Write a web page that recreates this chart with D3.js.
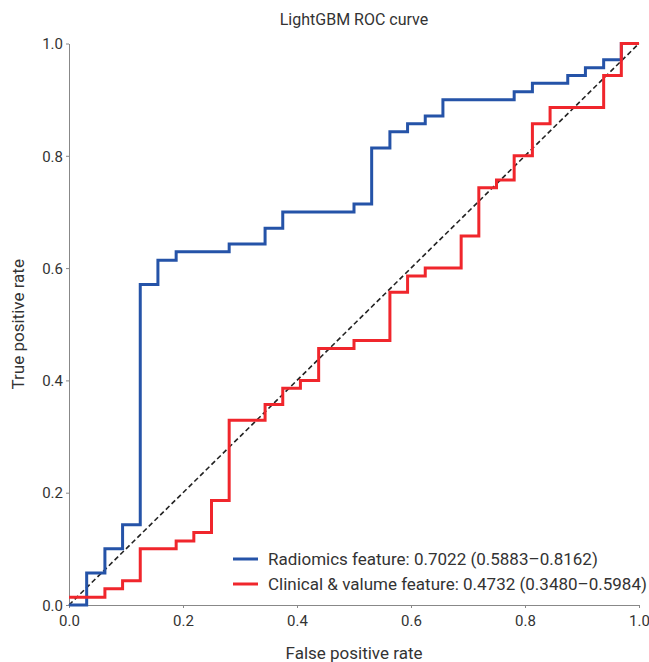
<!DOCTYPE html>
<html>
<style>
body { margin: 0; background: #fff; }
text { font-family: "Roboto", sans-serif; fill: #333; }
.axis path, .axis line { stroke: #888; }
</style>
<body>
<svg width="649" height="662"></svg>
<script src="https://d3js.org/d3.v7.min.js"></script>
<script>
// ROC step curves
var radFpr = [0, 0.031, 0.031, 0.063, 0.063, 0.094, 0.094, 0.125, 0.125, 0.156, 0.156, 0.188, 0.188, 0.281, 0.281, 0.344, 0.344, 0.375, 0.375, 0.5, 0.5, 0.531, 0.531, 0.563, 0.563, 0.594, 0.594, 0.625, 0.625, 0.656, 0.656, 0.781, 0.781, 0.813, 0.813, 0.875, 0.875, 0.906, 0.906, 0.938, 0.938, 0.969, 0.969, 1];
var radTpr = [0, 0, 0.057, 0.057, 0.1, 0.1, 0.143, 0.143, 0.571, 0.571, 0.614, 0.614, 0.629, 0.629, 0.643, 0.643, 0.671, 0.671, 0.7, 0.7, 0.714, 0.714, 0.814, 0.814, 0.843, 0.843, 0.857, 0.857, 0.871, 0.871, 0.9, 0.9, 0.914, 0.914, 0.929, 0.929, 0.943, 0.943, 0.957, 0.957, 0.971, 0.971, 1, 1];
var cliFpr = [0, 0.063, 0.063, 0.094, 0.094, 0.125, 0.125, 0.188, 0.188, 0.219, 0.219, 0.25, 0.25, 0.281, 0.281, 0.344, 0.344, 0.375, 0.375, 0.406, 0.406, 0.438, 0.438, 0.5, 0.5, 0.563, 0.563, 0.594, 0.594, 0.625, 0.625, 0.688, 0.688, 0.719, 0.719, 0.75, 0.75, 0.781, 0.781, 0.813, 0.813, 0.844, 0.844, 0.938, 0.938, 0.969, 0.969, 1];
var cliTpr = [0.014, 0.014, 0.029, 0.029, 0.043, 0.043, 0.1, 0.1, 0.114, 0.114, 0.129, 0.129, 0.186, 0.186, 0.329, 0.329, 0.357, 0.357, 0.386, 0.386, 0.4, 0.4, 0.457, 0.457, 0.471, 0.471, 0.557, 0.557, 0.586, 0.586, 0.6, 0.6, 0.657, 0.657, 0.743, 0.743, 0.757, 0.757, 0.8, 0.8, 0.857, 0.857, 0.886, 0.886, 0.943, 0.943, 1, 1];
var ticks = [0, 0.2, 0.4, 0.6, 0.8, 1.0];
var legendLabels = ["Radiomics feature: 0.7022 (0.5883\u20130.8162)", "Clinical & valume feature: 0.4732 (0.3480\u20130.5984)"];

var svg = d3.select("svg"),
    margin = {left: 69, top: 43.5, right: 10, bottom: 57},
    width = 570,
    height = 561.5;

var x = d3.scaleLinear().domain([0, 1]).range([margin.left, margin.left + width]);
var y = d3.scaleLinear().domain([0, 1]).range([margin.top + height, margin.top]);

svg.append("g")
    .attr("class", "axis")
    .attr("transform", "translate(0," + (margin.top + height) + ")")
    .call(d3.axisBottom(x).tickValues(ticks).tickFormat(d3.format(".1f")).tickSize(3).tickSizeOuter(0))
    .selectAll("text").style("font-size", "15px").attr("dy", "1em");

svg.append("g")
    .attr("class", "axis")
    .attr("transform", "translate(" + margin.left + ",0)")
    .call(d3.axisLeft(y).tickValues(ticks).tickFormat(d3.format(".1f")).tickSize(3).tickSizeOuter(0))
    .selectAll("text").style("font-size", "15px").attr("dy", "0.35em");

svg.selectAll(".axis .domain").attr("stroke", "#888");

var line = d3.line()
    .x(function(d) { return x(d[0]); })
    .y(function(d) { return y(d[1]); });

svg.append("path")
    .datum([[0, 0], [1, 1]])
    .attr("d", line)
    .attr("fill", "none")
    .attr("stroke", "#222")
    .attr("stroke-width", 1.6)
    .attr("stroke-dasharray", "5,3");

svg.append("path")
    .datum(d3.zip(radFpr, radTpr))
    .attr("d", line)
    .attr("fill", "none")
    .attr("stroke", "#2553a8")
    .attr("stroke-width", 3);

svg.append("path")
    .datum(d3.zip(cliFpr, cliTpr))
    .attr("d", line)
    .attr("fill", "none")
    .attr("stroke", "#f0262c")
    .attr("stroke-width", 3);

// title and axis labels
svg.append("text")
    .attr("x", 354).attr("y", 25)
    .attr("text-anchor", "middle")
    .style("font-size", "16px")
    .text("LightGBM ROC curve");

svg.append("text")
    .attr("x", 354).attr("y", 659)
    .attr("text-anchor", "middle")
    .style("font-size", "17px")
    .text("False positive rate");

svg.append("text")
    .attr("transform", "translate(24," + (margin.top + height / 2) + ") rotate(-90)")
    .attr("text-anchor", "middle")
    .style("font-size", "17px")
    .text("True positive rate");

// legend
var colors = ["#2553a8", "#f0262c"];
var leg = svg.append("g").selectAll("g")
    .data(legendLabels)
    .enter().append("g")
    .attr("transform", function(d, i) { return "translate(233," + (559 + i * 25) + ")"; });

leg.append("line")
    .attr("x1", 0).attr("x2", 25)
    .attr("stroke", function(d, i) { return colors[i]; })
    .attr("stroke-width", 3);

leg.append("text")
    .attr("x", 35).attr("dy", "0.35em")
    .style("font-size", "17px")
    .text(function(d) { return d; });
</script>
</body>
</html>
